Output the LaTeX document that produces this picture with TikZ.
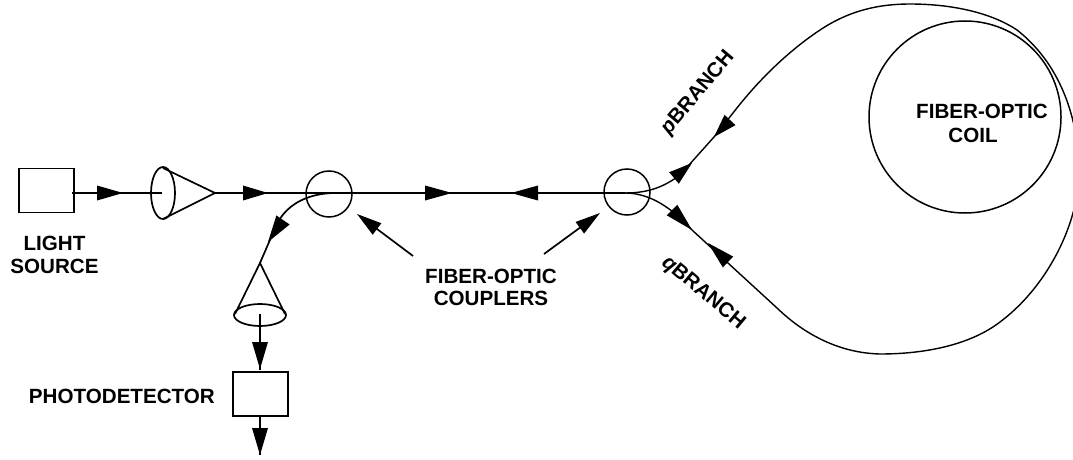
\documentclass[tikz,border=0pt]{standalone}
\usepackage{fontspec}
\setmainfont{Liberation Sans}
\usetikzlibrary{calc}
\newcommand{\tri}[3]{\fill ($(#1)!#3!90:(#2)$) -- (#2) -- ($(#1)!#3!-90:(#2)$) -- cycle;}
\tikzset{
  fib/.style={line width=1.7pt},
  thin fib/.style={line width=1.4pt},
  boxnode/.style={draw,line width=1.9pt,minimum width=55pt,minimum height=44pt,inner sep=0pt},
  coupler/.style={draw,circle,line width=1.5pt,minimum size=46pt,inner sep=0pt},
  lab/.style={font=\bfseries\fontsize{20.6}{22.5}\selectfont,inner sep=0pt,align=center},
}
\begin{document}
\begin{tikzpicture}[x=1pt,y=-1pt]
\useasboundingbox (0,0) rectangle (1073,460);
\clip (0,0) rectangle (1073,460);
% boxes and couplers
\node[boxnode] (src) at (46.5,190.5) {};
\node[boxnode] (det) at (260.5,394) {};
\node[coupler] (c1) at (329,194) {};
\node[coupler] (c2) at (627,192) {};
\node[draw,circle,line width=1.5pt,minimum size=192pt,inner sep=0pt] (coil) at (965,117) {};
% coordinates
\coordinate (srcO) at (72,193);
\coordinate (lensC) at (162,193);
\coordinate (lensT) at (163,168);
\coordinate (lensB) at (163,219);
\coordinate (apex) at (215,193);
\coordinate (c1in) at (333,193);
\coordinate (c2in) at (625,193);
\coordinate (dapex) at (260,263);
\coordinate (dL) at (235,314);
\coordinate (dR) at (285,314);
\coordinate (dC) at (260,314);
\coordinate (detT) at (260,370);
\coordinate (detB) at (260,416);
\coordinate (detE) at (260,455);
% source and lens
\draw[fib] (srcO) -- (lensC);
\draw[fib] (163,193) ellipse [x radius=12,y radius=26];
\draw[fib] (lensT) -- (apex) -- (lensB);
% main line
\draw[fib] (apex) -- (c2in);
% to detector
\draw[fib] (c1in) .. controls (305,194) and (285,206) .. (276,226) -- (dapex);
\draw[fib] (dL) -- (dapex) -- (dR);
\draw[fib] (260,315) ellipse [x radius=26,y radius=11];
\draw[fib] (dC) -- (detT);
\draw[fib] (detB) -- (detE);
% branches
\draw[thin fib] (c2in) .. controls (650,193) and (665,186) .. (680,175) -- (714,137) -- (733,113)
  .. controls (760,78) and (790,50) .. (820,30) .. controls (850,10) and (880,4) .. (910,4)
  .. controls (950,4) and (990,12) .. (1017,30) .. controls (1045,52) and (1066,85) .. (1075,130);
\draw[thin fib] (1075,205) .. controls (1066,245) and (1040,292) .. (1000,322)
  .. controls (970,345) and (925,354) .. (880,354) .. controls (840,353) and (805,335) .. (777,308)
  -- (692,230) .. controls (672,208) and (650,193) .. (c2in);
% arrowheads
\tri{97,193}{123,193}{7.5pt}
\tri{243,193}{268,193}{7.5pt}
\tri{425,193}{452,193}{7.5pt}
\tri{538,193}{511,193}{7.5pt}
\tri{283,220}{268,242}{8pt}
\tri{260,342}{260,369}{8pt}
\tri{260,428}{260,455}{8pt}
\tri{730,120}{714,137}{7.5pt}
\tri{674,178}{692,163}{7.5pt}
\tri{672,210}{692,230}{7.5pt}
\tri{728,262}{708,243}{7.5pt}
% pointer arrows
\coordinate (p1) at (413,256);
\coordinate (p1t) at (357,214);
\coordinate (p2) at (544,254);
\coordinate (p2t) at (600,213);
\draw[fib] (p1) -- ($(p1)!0.7!(p1t)$);
\tri{$(p1t)!25pt!(p1)$}{p1t}{7.2pt}
\draw[fib] (p2) -- ($(p2)!0.7!(p2t)$);
\tri{$(p2t)!25pt!(p2)$}{p2t}{7.2pt}
% labels
\node[lab] (l1) at (54.5,255) {LIGHT\\SOURCE};
\node[lab,anchor=east] (l2) at (215,396) {PHOTODETECTOR};
\node[lab] (l3) at (491,287.5) {FIBER-OPTIC\\COUPLERS};
\node[lab] (l4) at (982,111) {FIBER-OPTIC};
\node[lab] (l5) at (973,135) {COIL};
\node[lab,rotate=50] (l6) at (698,93) {\textit{p}BRANCH};
\node[lab,rotate=-40] (l7) at (703,293) {\textit{q}BRANCH};
\end{tikzpicture}
\end{document}
